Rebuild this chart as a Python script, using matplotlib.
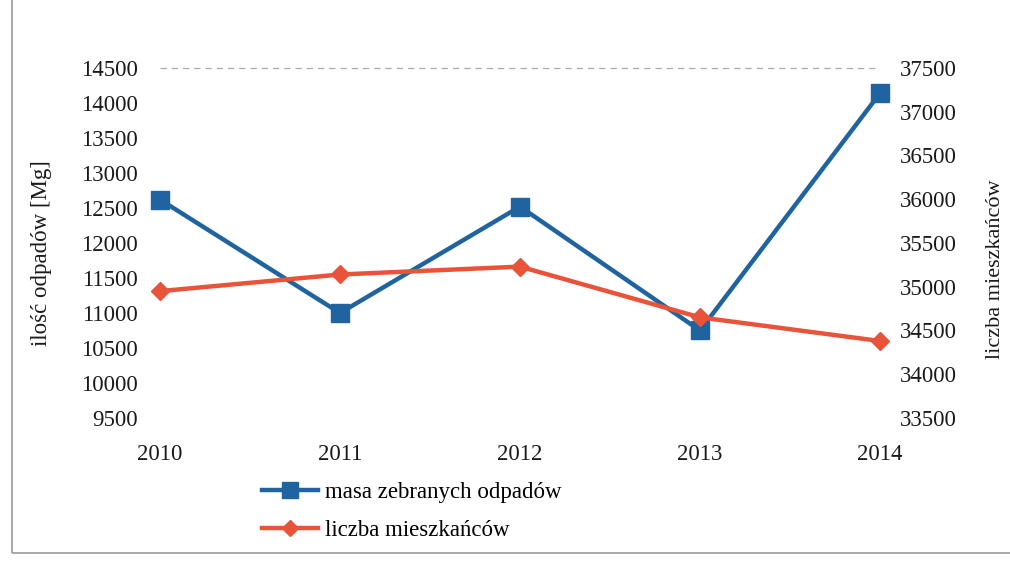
import matplotlib
matplotlib.use("Agg")
import matplotlib.pyplot as plt
from matplotlib.lines import Line2D
from matplotlib.patches import Rectangle

years = ["2010", "2011", "2012", "2013", "2014"]
waste_mass = [12620, 11000, 12520, 10750, 14140]
residents = [34950, 35140, 35230, 34650, 34380]
left_ticks = list(range(9500, 14501, 500))
right_ticks = list(range(33500, 37501, 500))

BLUE = "#1F64A0"
RED = "#E8533A"
TXT = "#1a1a1a"
plt.rcParams["font.family"] = ["Liberation Serif", "DejaVu Serif"]

W, H = 1010, 561
fig = plt.figure(figsize=(W / 100, H / 100), dpi=100)
fig.patch.set_facecolor("white")

L, R, T, B = 160, 880, 68, 418
ax = fig.add_axes([L / W, 1 - B / H, (R - L) / W, (B - T) / H])
ax2 = ax.twinx()

x = list(range(len(years)))
ax.plot(x, waste_mass, color=BLUE, lw=3.2, marker="s", ms=13, zorder=3, clip_on=False)
ax2.plot(x, residents, color=RED, lw=3.2, marker="D", ms=9.5, zorder=3, clip_on=False)

ax.set_xlim(0, len(years) - 1)
ax.set_ylim(9500, 14500)
ax2.set_ylim(33500, 37500)
ax.set_xticks(x)
ax.set_xticklabels(years)
ax.set_yticks(left_ticks)
ax2.set_yticks(right_ticks)

for a in (ax, ax2):
    for s in a.spines.values():
        s.set_visible(False)
    a.tick_params(length=0, labelsize=16.5, colors=TXT)
ax.tick_params(axis="x", pad=19)
ax.tick_params(axis="y", pad=16)
ax2.tick_params(axis="y", pad=14)

ax.axhline(14500, color="#aaaaaa", lw=0.9, ls=(0, (5, 4)), zorder=1, clip_on=False)

ax.set_ylabel("ilość odpadów [Mg]", fontsize=16.5, color=TXT)
ax.yaxis.set_label_coords(-0.150, 0.47)
ax2.set_ylabel("liczba mieszkańców", fontsize=16, rotation=90, color=TXT)
ax2.yaxis.set_label_coords(1.147, 0.425)

handles = [
    Line2D([0], [0], color=BLUE, lw=3.2, marker="s", ms=11),
    Line2D([0], [0], color=RED, lw=3.2, marker="D", ms=8),
]
fig.legend(handles, ["masa zebranych odpadów", "liczba mieszkańców"],
           loc="upper left", bbox_to_anchor=(262 / W, 1 - 482 / H),
           frameon=False, fontsize=16.5, handlelength=2.45, handletextpad=0.3,
           labelspacing=0.74, borderpad=0, borderaxespad=0)

fig.add_artist(Rectangle((12 / W, 1 - 553 / H), 1.2, 553 / H + 0.1,
                         transform=fig.transFigure, fill=False,
                         edgecolor="#9a9a9a", lw=1.2, clip_on=False))

fig.savefig("out.png", dpi=100, facecolor="white")
